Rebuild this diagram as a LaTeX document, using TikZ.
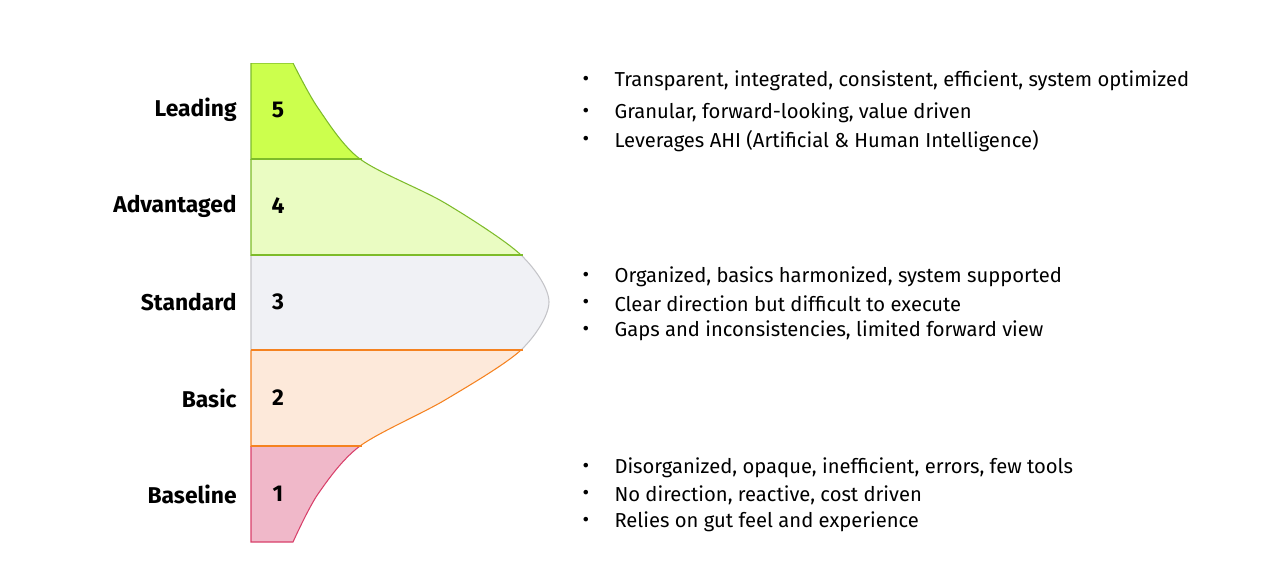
\documentclass[tikz,border=0pt]{standalone}
\usepackage{fontspec}
\setmainfont{Fira Sans}
\usetikzlibrary{positioning}
\definecolor{lead}{HTML}{CCFF4D}
\definecolor{adv}{HTML}{EAFCC2}
\definecolor{std}{HTML}{F0F1F5}
\definecolor{bas}{HTML}{FDE9DA}
\definecolor{base}{HTML}{F0B8C9}
\definecolor{greenline}{HTML}{7DBB2A}
\definecolor{grayline}{HTML}{C4C4C8}
\definecolor{orangeline}{HTML}{F58220}
\definecolor{pinkline}{HTML}{D8406A}
\tikzset{
  level/.style = {font=\fontsize{13}{15}\selectfont\bfseries, anchor=east},
  num/.style = {font=\fontsize{13}{15}\selectfont\bfseries},
  item/.style = {font=\fontsize{11.5}{14}\selectfont, anchor=west, inner sep=0pt},
  dot/.style = {font=\fontsize{11.5}{14}\selectfont, inner sep=0pt}
}
\newcommand{\bellpath}{(251,63) -- plot[smooth] coordinates {(293,63) (318,108) (360,159) (445,203) (521,255) (549,302) (521,350) (445,400) (360,446) (318,494) (293,542)} -- (251,542) -- cycle}
\begin{document}
\begin{tikzpicture}[x=0.02cm, y=-0.02cm, line width=0.6pt]
  \useasboundingbox (0,0) rectangle (1262,586);
  % bands, bottom to top
  \foreach \top/\bot/\fil/\lin in {446/542/base/pinkline, 350/446/bas/orangeline,
      255/350/std/grayline, 159/255/adv/greenline, 63/159/lead/greenline}{
    \begin{scope}
      \clip (240,\top) rectangle (600,\bot);
      \fill[\fil] \bellpath;
      \draw[\lin] \bellpath;
    \end{scope}
  }
  \draw[greenline] (251,159) -- (362,159);
  \draw[greenline] (251,255) -- (523,255);
  \draw[orangeline] (251,350) -- (523,350);
  \draw[orangeline] (251,446) -- (362,446);
  % levels
  \foreach \n/\name/\y in {5/Leading/110, 4/Advantaged/206, 3/Standard/302, 2/Basic/398, 1/Baseline/494}{
    \node[level] (l\n) at (243,\y) {\name};
    \node[num] (n\n) at (278,\y) {\n};
  }
  % descriptions
  \foreach \i/\txt/\y in {
      a/{Transparent, integrated, consistent, efficient, system optimized}/81,
      b/{Granular, forward-looking, value driven}/113,
      c/{Leverages AHI (Artificial \& Human Intelligence)}/141,
      d/{Organized, basics harmonized, system supported}/277,
      e/{Clear direction but difficult to execute}/304,
      f/{Gaps and inconsistencies, limited forward view}/331,
      g/{Disorganized, opaque, inefficient, errors, few tools}/468,
      h/{No direction, reactive, cost driven}/495,
      k/{Relies on gut feel and experience}/522}{
    \node[dot] (b\i) at (586,\y) {•};
    \node[item] (t\i) at (614,\y) {\txt};
  }
\end{tikzpicture}
\end{document}
